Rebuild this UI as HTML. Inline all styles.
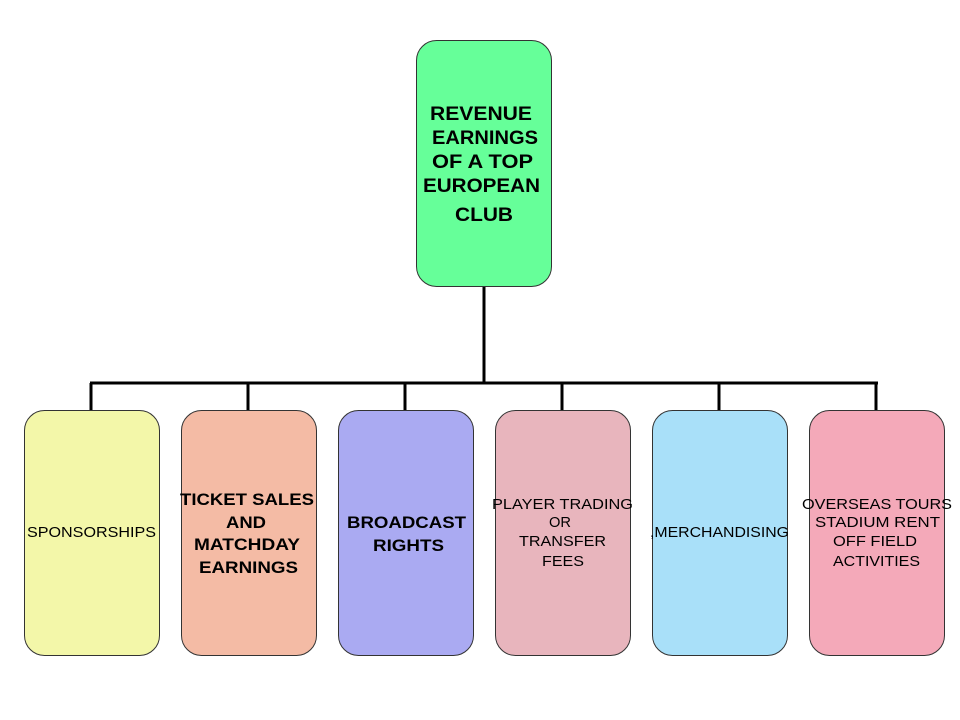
<!DOCTYPE html>
<html><head><meta charset="utf-8"><style>body{margin:0;background:#fff}svg{display:block}</style></head>
<body>
<svg width="960" height="720" xmlns="http://www.w3.org/2000/svg" font-family="Liberation Sans, Arial, sans-serif">
<g stroke="#000" stroke-width="3" fill="none">
<line x1="484" y1="286" x2="484" y2="384"/>
<line x1="90" y1="383" x2="878" y2="383"/>
<line x1="91" y1="383" x2="91" y2="410"/>
<line x1="248" y1="383" x2="248" y2="410"/>
<line x1="405" y1="383" x2="405" y2="410"/>
<line x1="562" y1="383" x2="562" y2="410"/>
<line x1="719" y1="383" x2="719" y2="410"/>
<line x1="876" y1="383" x2="876" y2="410"/>
</g>
<g stroke="#333" stroke-width="1">
<rect x="416.5" y="40.5" width="135" height="246" rx="20" fill="#66FF99"/>
<rect x="24.5" y="410.5" width="135" height="245" rx="20" fill="#F3F7A9"/>
<rect x="181.5" y="410.5" width="135" height="245" rx="20" fill="#F4BBA5"/>
<rect x="338.5" y="410.5" width="135" height="245" rx="20" fill="#AAAAF2"/>
<rect x="495.5" y="410.5" width="135" height="245" rx="20" fill="#E8B5BD"/>
<rect x="652.5" y="410.5" width="135" height="245" rx="20" fill="#A9E0F9"/>
<rect x="809.5" y="410.5" width="135" height="245" rx="20" fill="#F4A9B9"/>
</g>
<g font-weight="bold" font-size="19" fill="#000">
<text x="430" y="120" textLength="102" lengthAdjust="spacingAndGlyphs">REVENUE</text>
<text x="432" y="144" textLength="106" lengthAdjust="spacingAndGlyphs">EARNINGS</text>
<text x="432" y="168" textLength="101" lengthAdjust="spacingAndGlyphs">OF A TOP</text>
<text x="423" y="192" textLength="117" lengthAdjust="spacingAndGlyphs">EUROPEAN</text>
<text x="455" y="221" textLength="58" lengthAdjust="spacingAndGlyphs">CLUB</text>
</g>
<g font-weight="bold" font-size="17" fill="#000">
<text x="180" y="505" textLength="134" lengthAdjust="spacingAndGlyphs">TICKET SALES</text>
<text x="226" y="528" textLength="40" lengthAdjust="spacingAndGlyphs">AND</text>
<text x="194" y="550" textLength="106" lengthAdjust="spacingAndGlyphs">MATCHDAY</text>
<text x="199" y="573" textLength="99" lengthAdjust="spacingAndGlyphs">EARNINGS</text>
<text x="347" y="528" textLength="119" lengthAdjust="spacingAndGlyphs">BROADCAST</text>
<text x="373" y="551" textLength="71" lengthAdjust="spacingAndGlyphs">RIGHTS</text>
</g>
<g font-size="15" fill="#000">
<text x="27" y="537" textLength="129" lengthAdjust="spacingAndGlyphs">SPONSORSHIPS</text>
<text x="492" y="509" textLength="141" lengthAdjust="spacingAndGlyphs">PLAYER TRADING</text>
<text x="549" y="527" textLength="22" lengthAdjust="spacingAndGlyphs">OR</text>
<text x="519" y="546" textLength="87" lengthAdjust="spacingAndGlyphs">TRANSFER</text>
<text x="542" y="566" textLength="42" lengthAdjust="spacingAndGlyphs">FEES</text>
<text x="650" y="537" textLength="139" lengthAdjust="spacingAndGlyphs">,MERCHANDISING</text>
<text x="802" y="509" textLength="150" lengthAdjust="spacingAndGlyphs">OVERSEAS TOURS</text>
<text x="815" y="527" textLength="125" lengthAdjust="spacingAndGlyphs">STADIUM RENT</text>
<text x="833" y="546" textLength="84" lengthAdjust="spacingAndGlyphs">OFF FIELD</text>
<text x="833" y="566" textLength="87" lengthAdjust="spacingAndGlyphs">ACTIVITIES</text>
</g>
</svg>
</body></html>
